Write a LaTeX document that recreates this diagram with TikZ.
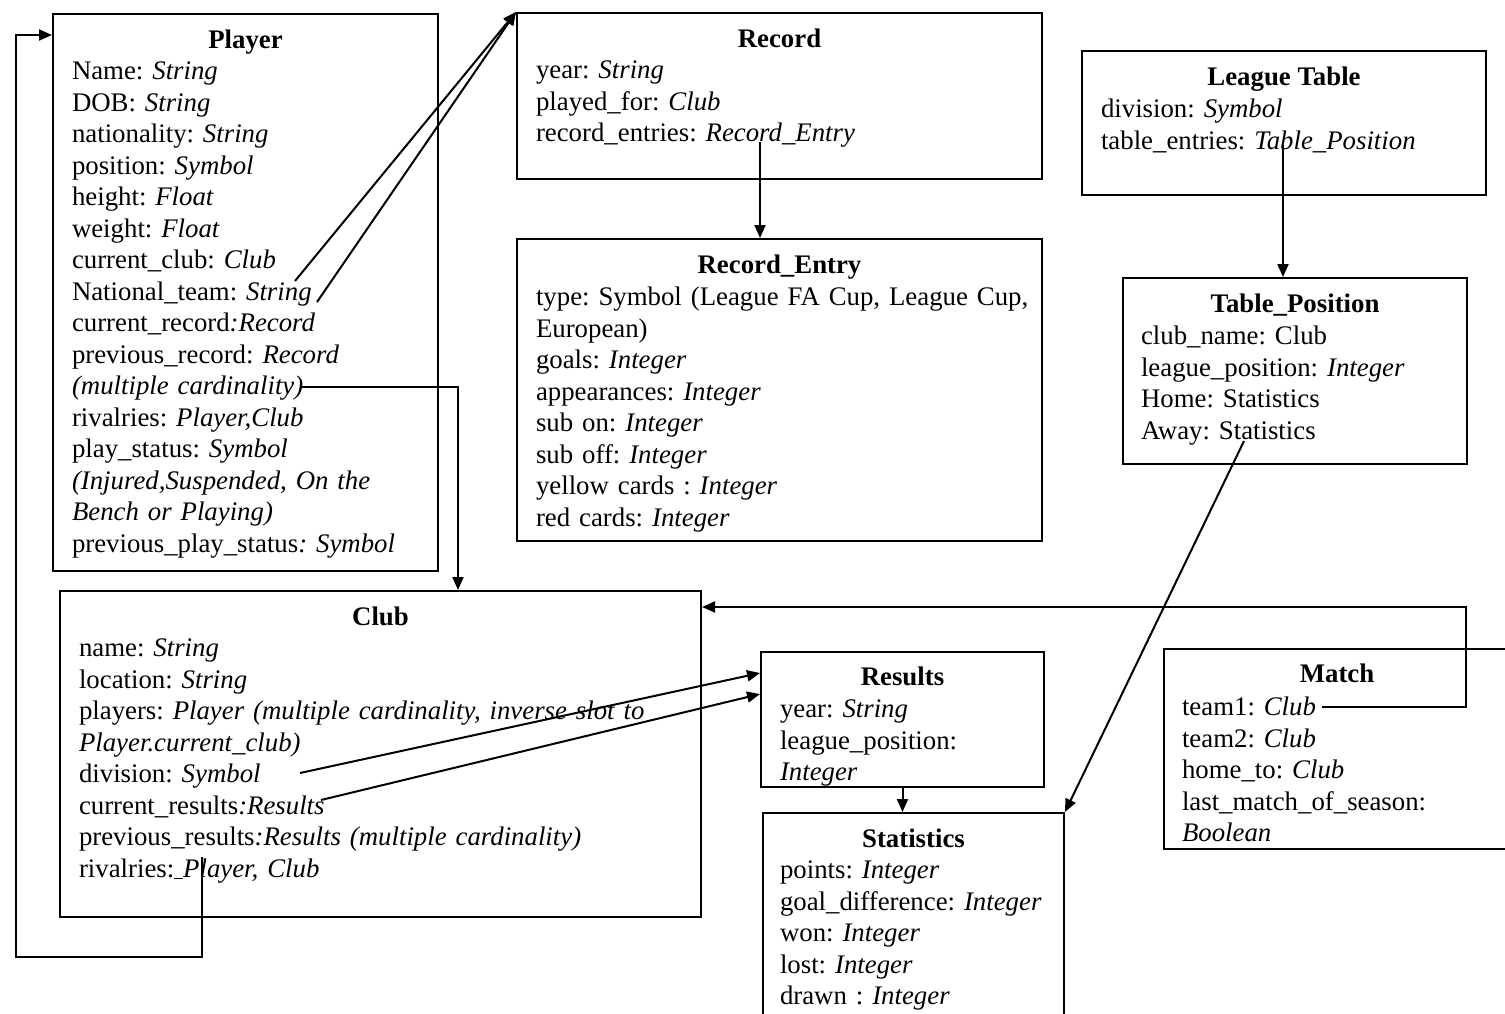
\documentclass[tikz,border=0pt]{standalone}
\usepackage{fontspec}
\setmainfont{Liberation Serif}
\usetikzlibrary{arrows.meta,calc}
\frenchspacing

\begin{document}
\begin{tikzpicture}[x=1pt, y=-1pt, line width=2pt,
  font=\fontsize{26.8}{31.5}\selectfont,
  classbox/.style={draw, anchor=north west, inner sep=0pt},
  classname/.style={anchor=base, font=\fontsize{26.8}{31.5}\selectfont\bfseries},
  attrs/.style={anchor=north west, align=left, text width=640pt, inner sep=0pt},
  arr/.style={-{Triangle[length=13pt,width=11pt]}}]
\useasboundingbox (0,0) rectangle (1505,1013);
\clip (0,0) rectangle (1505,1013);

% class boxes
\node [classbox, minimum width=385pt, minimum height=557pt] (player) at (52,13) {};
\node [classbox, minimum width=525pt, minimum height=166pt] (record) at (516,12) {};
\node [classbox, minimum width=525pt, minimum height=302pt] (entry) at (516,238) {};
\node [classbox, minimum width=404pt, minimum height=144pt] (league) at (1081,50) {};
\node [classbox, minimum width=344pt, minimum height=186pt] (tablepos) at (1122,277) {};
\node [classbox, minimum width=641pt, minimum height=326pt] (club) at (59,590) {};
\node [classbox, minimum width=283pt, minimum height=135pt] (results) at (760,651) {};
\node [classbox, minimum width=301pt, minimum height=240pt] (stats) at (762,812) {};
\node [classbox, minimum width=346pt, minimum height=200pt] (match) at (1163,648) {};

% Player
\node [classname] (player-name) at ($(player.north)+(0,35)$) {Player};
\node [attrs] (player-attrs) at ($(player.north west)+(19,48)$) {
Name: \textit{String}\\
DOB: \textit{String}\\
nationality: \textit{String}\\
position: \textit{Symbol}\\
height: \textit{Float}\\
weight: \textit{Float}\\
current\_club: \textit{Club}\\
National\_team: \textit{String}\\
current\_record\textit{:Record}\\
previous\_record: \textit{Record}\\
\textit{(multiple cardinality)}\\
rivalries: \textit{Player,Club}\\
play\_status: \textit{Symbol}\\
\textit{(Injured,Suspended, On the}\\
\textit{Bench or Playing)}\\
previous\_play\_status\textit{: Symbol}};

% Record
\node [classname] (record-name) at ($(record.north)+(0,35)$) {Record};
\node [attrs] (record-attrs) at ($(record.north west)+(19,48)$) {
year: \textit{String}\\
played\_for: \textit{Club}\\
record\_entries: \textit{Record\_Entry}};

% Record_Entry
\node [classname] (entry-name) at ($(entry.north)+(0,35)$) {Record\_Entry};
\node [attrs] (entry-attrs) at ($(entry.north west)+(19,48)$) {
type: Symbol (League FA Cup, League Cup,\\
European)\\
goals: \textit{Integer}\\
appearances: \textit{Integer}\\
sub on: \textit{Integer}\\
sub off: \textit{Integer}\\
yellow cards : \textit{Integer}\\
red cards: \textit{Integer}};

% League Table
\node [classname] (league-name) at ($(league.north)+(0,35)$) {League Table};
\node [attrs] (league-attrs) at ($(league.north west)+(19,48)$) {
division: \textit{Symbol}\\
table\_entries: \textit{Table\_Position}};

% Table_Position
\node [classname] (tablepos-name) at ($(tablepos.north)+(0,35)$) {Table\_Position};
\node [attrs] (tablepos-attrs) at ($(tablepos.north west)+(18,48)$) {
club\_name: Club\\
league\_position: \textit{Integer}\\
Home: Statistics\\
Away: Statistics};

% Club
\node [classname] (club-name) at ($(club.north)+(0,35)$) {Club};
\node [attrs] (club-attrs) at ($(club.north west)+(19,48)$) {
name: \textit{String}\\
location: \textit{String}\\
players: \textit{Player (multiple cardinality, inverse slot to}\\
\textit{Player.current\_club)}\\
division: \textit{Symbol}\\
current\_results\textit{:Results}\\
previous\_results\textit{:Results (multiple cardinality)}\\
rivalries:\underline{\ }\textit{Player, Club}};

% Results
\node [classname] (results-name) at ($(results.north)+(0,34)$) {Results};
\node [attrs] (results-attrs) at ($(results.north west)+(19,48)$) {
year: \textit{String}\\
league\_position:\\
\textit{Integer}};

% Statistics
\node [classname] (stats-name) at ($(stats.north)+(0,35)$) {Statistics};
\node [attrs] (stats-attrs) at ($(stats.north west)+(17,48)$) {
points: \textit{Integer}\\
goal\_difference: \textit{Integer}\\
won: \textit{Integer}\\
lost: \textit{Integer}\\
drawn : \textit{Integer}};

% Match
\node [classname] (match-name) at ($(match.north)+(0,34)$) {Match};
\node [attrs] (match-attrs) at ($(match.north west)+(18,48)$) {
team1: \textit{Club}\\
team2: \textit{Club}\\
home\_to: \textit{Club}\\
last\_match\_of\_season:\\
\textit{Boolean}};

% slot ends
\coordinate (natA) at (295,281);
\coordinate (natB) at (317,302);
\coordinate (prevrec) at (302,387);
\coordinate (recent) at (760,142);
\coordinate (tabent) at (1283,145);
\coordinate (away) at (1244,441);
\coordinate (clubdiv) at (300,773);
\coordinate (clubres) at (321,800);
\coordinate (clubriv) at (202,857);
\coordinate (loopleft) at (16,957);
\coordinate (team1) at (1322,707);
\coordinate (loopright) at (1466,607);

% connectors
\draw [arr] (natA) -- (record.north west);
\draw [arr] (natB) -- (record.north west);
\draw [arr] (prevrec) -| ($(club.north west)+(399,0)$);
\draw [arr] (recent) -- (recent |- entry.north);
\draw [arr] (tabent) -- (tabent |- tablepos.north);
\draw [arr] (away) -- (stats.north east);
\draw [arr] (clubdiv) -- ($(results.north west)+(0,22)$);
\draw [arr] (clubres) -- ($(results.north west)+(0,43)$);
\draw [arr] (results.south) -- (results.south |- stats.north);
\draw [arr] (team1) -| (loopright) -- (loopright -| club.east);
\draw [arr] (clubriv) |- (loopleft) |- ($(player.north west)+(0,22)$);
\end{tikzpicture}
\end{document}
